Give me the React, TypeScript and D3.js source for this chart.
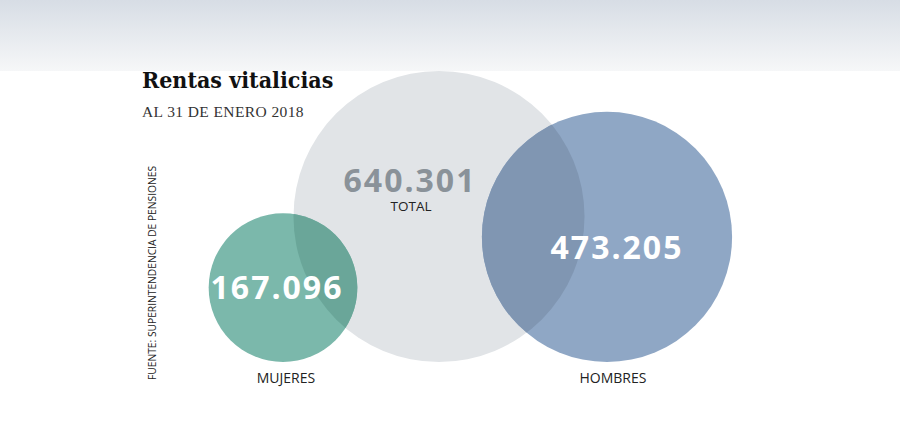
import React from "react";
import * as d3 from "d3";

const categories = ["TOTAL", "MUJERES", "HOMBRES"];
const values = [640301, 167096, 473205];
const title = "Rentas vitalicias";
const subtitle = "AL 31 DE ENERO 2018";
const source = "FUENTE: SUPERINTENDENCIA DE PENSIONES";

const W = 900;
const H = 441;

const fills = ["#e1e4e7", "#7bb8ab", "#8fa7c5"];
const overlapFills = ["#e1e4e7", "#6aa699", "#8096b2"];
const numberColors = ["#8a9299", "#ffffff", "#ffffff"];
// layout: center x, number offsets
const layout = [
  { cx: 439, nx: -29, ny: -25, label: "inside" },
  { cx: 283, nx: -6, ny: 11, label: "below" },
  { cx: 607, nx: 10, ny: 22, label: "below" },
];
const groundY = 362;

const locale = d3.formatLocale({ decimal: ",", thousands: ".", grouping: [3], currency: ["$", ""] });
const fmt = locale.format(",d");

export default function App() {
  const r = d3.scaleSqrt().domain([0, d3.max(values) as number]).range([0, 145.5]);
  const circles = values.map((v, i) => {
    const rad = r(v);
    return { v, cat: categories[i], r: rad, cx: layout[i].cx, cy: groundY - rad, i };
  });
  const total = circles[0];
  return (
    <svg width={W} height={H} style={{ position: "absolute", left: 0, top: 0, background: "#fff" }}>
      <defs>
        <linearGradient id="bg" x1="0" y1="0" x2="0" y2="1">
          <stop offset="0%" stopColor="#d7dde5" />
          <stop offset="100%" stopColor="#f6f7f8" />
        </linearGradient>
        <clipPath id="clipTotal">
          <circle cx={total.cx} cy={total.cy} r={total.r} />
        </clipPath>
      </defs>
      <rect x={0} y={0} width={W} height={H} fill="#fff" />
      <rect x={0} y={0} width={W} height={71} fill="url(#bg)" />
      <text x={142} y={87.5} fontFamily="'DejaVu Serif Condensed', 'DejaVu Serif', serif" fontWeight={700} fontSize={23} fill="#111">
        {title}
      </text>
      <text x={142} y={117} fontFamily="'Liberation Serif', serif" fontSize={15.5} letterSpacing={0.4} fill="#333">
        {subtitle}
      </text>
      <text
        transform={`translate(156,380) rotate(-90)`}
        fontFamily="'Open Sans', sans-serif"
        fontSize={11}
        textLength={214}
        lengthAdjust="spacingAndGlyphs"
        fill="#222"
      >
        {source}
      </text>
      {circles.map((c) => (
        <circle key={c.cat} cx={c.cx} cy={c.cy} r={c.r} fill={fills[c.i]} />
      ))}
      <g clipPath="url(#clipTotal)">
        {circles.slice(1).map((c) => (
          <circle key={c.cat} cx={c.cx} cy={c.cy} r={c.r} fill={overlapFills[c.i]} />
        ))}
      </g>
      {circles.map((c) => (
        <text
          key={"n" + c.cat}
          x={c.cx + layout[c.i].nx}
          y={c.cy + layout[c.i].ny}
          textAnchor="middle"
          fontFamily="'Open Sans', sans-serif"
          fontWeight={700}
          fontSize={32}
          letterSpacing={2}
          fill={numberColors[c.i]}
        >
          {fmt(c.v)}
        </text>
      ))}
      {circles.map((c) =>
        layout[c.i].label === "inside" ? (
          <text key={"l" + c.cat} x={c.cx - 28} y={c.cy - 6} textAnchor="middle" fontFamily="'Open Sans', sans-serif" fontSize={13.5} fill="#222">
            {c.cat}
          </text>
        ) : (
          <text key={"l" + c.cat} x={c.cx + (c.i === 1 ? 3 : 6)} y={groundY + 20.5} textAnchor="middle" fontFamily="'Open Sans', sans-serif" fontSize={14} fill="#222">
            {c.cat}
          </text>
        )
      )}
    </svg>
  );
}
